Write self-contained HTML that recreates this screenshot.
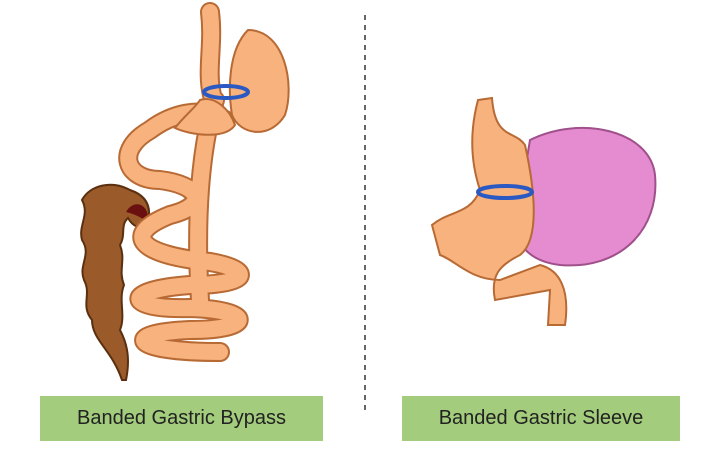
<!DOCTYPE html>
<html><head><style>
body{margin:0;background:#fff;width:716px;height:453px;overflow:hidden;position:relative;font-family:"Liberation Sans",sans-serif}
.lab{position:absolute;top:396px;height:45px;background:#a3cd7c;color:#222;font-size:20px;line-height:45px;text-align:center}
</style></head><body>
<svg width="716" height="453" style="position:absolute;left:0;top:0">
<line x1="365" y1="15" x2="365" y2="415" stroke="#333" stroke-width="1.5" stroke-dasharray="5,5"/>
<!-- colon -->
<path d="M122 380 C112 350 92 340 92 320 C80 305 92 295 84 280 C78 265 92 255 82 240 C78 225 90 215 82 200 C90 185 112 180 130 190 C145 195 152 205 148 222 C140 232 132 225 128 218 C120 225 126 235 120 245 C126 260 118 270 124 285 C118 300 126 315 120 330 C128 345 130 360 126 380 Z" fill="#9a5a2a" stroke="#5a3010" stroke-width="2"/>
<path d="M126 212 C134 198 150 204 148 222 C142 218 135 214 126 212Z" fill="#6a1010"/>
<!-- bypass intestines -->
<g fill="none" stroke-linecap="round" stroke-linejoin="round">
<path d="M210 12 C214 45 206 70 212 95 M215 100 C200 150 195 220 200 300 M225 120 C200 105 170 115 150 130 C115 150 125 180 160 180 C200 185 210 205 170 215 C120 235 140 255 210 262 C255 270 250 285 190 285 C120 290 125 310 190 308 C255 310 255 330 190 330 C120 333 130 352 220 352" stroke="#b86a35" stroke-width="20"/>
<path d="M210 12 C214 45 206 70 212 95 M215 100 C200 150 195 220 200 300 M225 120 C200 105 170 115 150 130 C115 150 125 180 160 180 C200 185 210 205 170 215 C120 235 140 255 210 262 C255 270 250 285 190 285 C120 290 125 310 190 308 C255 310 255 330 190 330 C120 333 130 352 220 352" stroke="#f7b27e" stroke-width="16"/>
</g>
<path d="M248 30 C285 30 295 85 285 115 C270 140 240 135 232 115 C228 90 228 50 248 30Z" fill="#f7b27e" stroke="#b86a35" stroke-width="2"/>
<path d="M200 100 C215 95 230 110 235 125 C225 140 190 135 175 128 C185 115 195 108 200 100Z" fill="#f7b27e" stroke="#b86a35" stroke-width="2"/>
<ellipse cx="226" cy="92" rx="22" ry="6" fill="none" stroke="#2b59c3" stroke-width="4"/>
<!-- sleeve -->
<path d="M530 140 C580 115 650 130 655 175 C660 230 620 270 560 265 C535 262 520 250 515 230 Z" fill="#e58bd0" stroke="#a0508a" stroke-width="2"/>
<path d="M478 100 L492 98 C495 140 515 130 525 145 C535 190 540 240 520 255 C500 265 490 275 495 300 L550 290 L548 325 L565 325 C570 290 560 270 540 265 L500 280 C470 280 455 260 440 255 L432 225 C450 210 470 215 480 190 C470 160 470 130 478 100Z" fill="#f7b27e" stroke="#b86a35" stroke-width="2"/>
<ellipse cx="505" cy="192" rx="27" ry="6" fill="none" stroke="#2b59c3" stroke-width="4"/>
</svg>
<div class="lab" style="left:40px;width:283px">Banded Gastric Bypass</div>
<div class="lab" style="left:402px;width:278px">Banded Gastric Sleeve</div>
</body></html>
